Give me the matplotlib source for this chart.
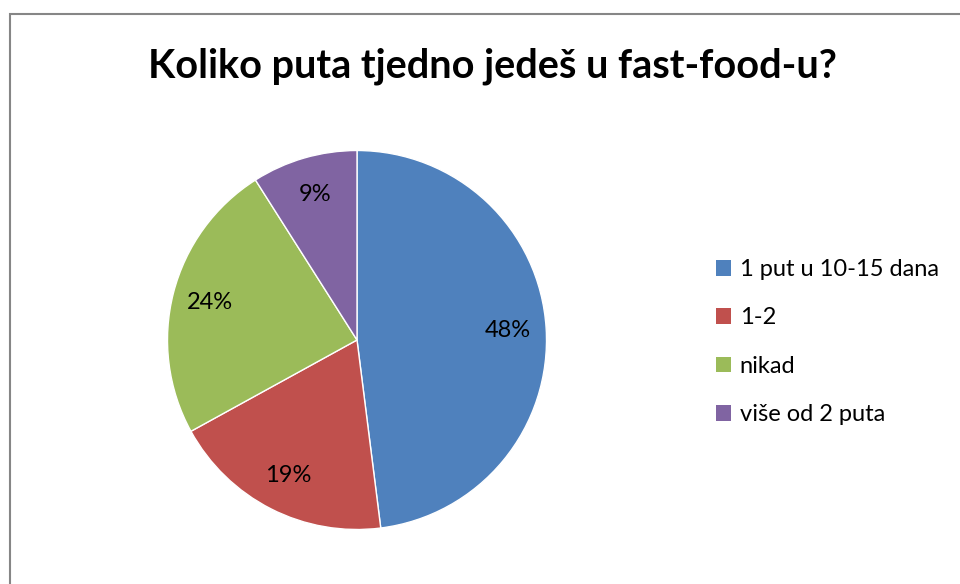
import matplotlib
matplotlib.use("Agg")
import matplotlib.pyplot as plt
from matplotlib.patches import Rectangle

title = "Koliko puta tjedno jedeš u fast-food-u?"
categories = ["1 put u 10-15 dana", "1-2", "nikad", "više od 2 puta"]
values = [48, 19, 24, 9]
colors = ["#4F81BD", "#C0504D", "#9BBB59", "#8064A2"]

plt.rcParams['font.family'] = ['Lato', 'DejaVu Sans']

W, H = 960, 584
fig = plt.figure(figsize=(W / 100, H / 100), dpi=100)
fig.patch.set_facecolor("white")

# outer frame (right and bottom edges fall outside the image)
fig.patches.append(Rectangle((9.5 / W, -0.2), 1.5, (H - 14) / H + 0.2,
                             transform=fig.transFigure, fill=False,
                             edgecolor="#868686", linewidth=1.5))

cx, cy, r = 357, 340, 189.5
ax = fig.add_axes([(cx - r) / W, (H - cy - r) / H, 2 * r / W, 2 * r / H])
wedges, texts, autotexts = ax.pie(
    values, colors=colors, startangle=90, counterclock=False,
    autopct=lambda p: f"{p:.0f}%", pctdistance=0.8,
    wedgeprops=dict(edgecolor="white", linewidth=1),
    textprops=dict(fontsize=17, color="black"))
ax.set_xlim(-1, 1)
ax.set_ylim(-1, 1)
ax.set_aspect("equal")
ax.axis("off")

fig.text(492 / W, 1 - 66 / H, title, ha="center", va="center",
         fontsize=28.5, fontweight="bold", color="black")

leg = fig.legend(wedges, categories, loc="upper left",
                 bbox_to_anchor=(716 / W, 1 - 259 / H),
                 frameon=False, fontsize=17, handlelength=0.65,
                 handleheight=0.65, handletextpad=0.35, labelspacing=1.16,
                 borderpad=0, borderaxespad=0)
for h in leg.legend_handles:
    h.set_edgecolor("none")

fig.savefig("out.png", dpi=100)
